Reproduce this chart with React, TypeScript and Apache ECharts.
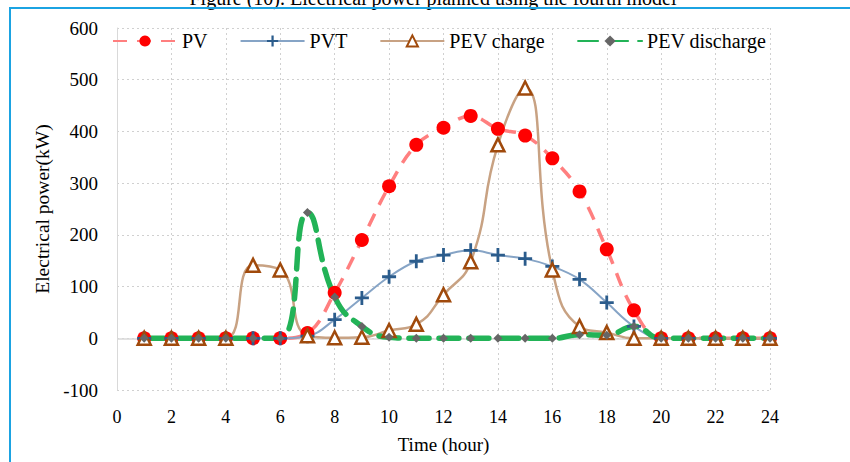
import React, { useEffect, useRef } from "react";
import * as echarts from "echarts";

const hours = [1, 2, 3, 4, 5, 6, 7, 8, 9, 10, 11, 12, 13, 14, 15, 16, 17, 18, 19, 20, 21, 22, 23, 24];
const pv = [0, 0, 0, 0, 0, 0, 10, 88, 190, 294, 374, 407, 430, 405, 392, 348, 284, 172, 54, 0, 0, 0, 0, 0];
const pvt = [0, 0, 0, 0, 0, 0, 4, 36, 78, 119, 149, 161, 170, 161, 154, 139, 114, 69, 23, 0, 0, 0, 0, 0];
const pevCharge = [0, 0, 0, 0, 141, 132, 5, 1, 2, 15, 27, 84, 148, 374, 484, 132, 23, 11, 0, 0, 0, 0, 0, 0];
const pevDischarge = [0, 0, 0, 0, 0, 0, 243, 80, 23, 2, 0, 0, 0, 0, 0, 0, 7, 6, 23, 0, 0, 0, 0, 0];
const seriesNames = ["PV", "PVT", "PEV charge", "PEV discharge"];
const titleText = "Figure (10). Electrical power planned using the fourth model";

const serif = "'Liberation Serif', 'Times New Roman', serif";
const plus = "path://M4,0H6V4H10V6H6V10H4V6H0V4H4Z";

const pair = (arr: number[]) => hours.map((h, i) => [h, arr[i]]);

export default function App() {
  const ref = useRef<HTMLDivElement>(null);
  useEffect(() => {
    document.body.style.margin = "0";
    const chart = echarts.init(ref.current!, undefined, { renderer: "svg" });
    chart.setOption({
      animation: false,
      backgroundColor: "#ffffff",
      grid: { left: 117, right: 80, top: 28, bottom: 72 },
      legend: {
        left: 107,
        top: 26,
        itemWidth: 64,
        itemHeight: 14,
        itemGap: 32,
        textStyle: { fontFamily: serif, fontSize: 20, color: "#000" },
        data: seriesNames,
      },
      xAxis: {
        type: "value",
        min: 0,
        max: 24,
        interval: 2,
        axisLine: { show: false, onZero: false },
        axisTick: { show: false },
        axisLabel: { fontFamily: serif, fontSize: 18, color: "#000", margin: 18 },
        splitLine: { show: true, lineStyle: { color: "#D0D0D0", type: [2, 3], width: 1 } },
        name: "Time (hour)",
        nameLocation: "middle",
        nameGap: 45,
        nameTextStyle: { fontFamily: serif, fontSize: 19, color: "#000" },
      },
      yAxis: {
        type: "value",
        min: -100,
        max: 600,
        interval: 100,
        axisLine: { show: true, lineStyle: { color: "#D9D9D9", width: 1 } },
        axisTick: { show: false },
        axisLabel: { fontFamily: serif, fontSize: 19, color: "#000", margin: 19 },
        splitLine: { show: true, lineStyle: { color: "#D0D0D0", type: [2, 3], width: 1 } },
        name: "Electrical power(kW)",
        nameLocation: "middle",
        nameGap: 62,
        nameTextStyle: { fontFamily: serif, fontSize: 19.5, color: "#000" },
      },
      graphic: [
        {
          type: "rect",
          shape: { x: 10, y: 8, width: 900, height: 500 },
          style: { fill: "none", stroke: "#1BA3E2", lineWidth: 2 },
          z: 100,
        },
        {
          type: "text",
          x: 433,
          y: -12,
          style: {
            text: titleText,
            fill: "#000",
            font: `20px ${serif}`,
            textAlign: "center",
            textVerticalAlign: "top",
          },
          z: 99,
        },
      ],
      series: [
        {
          name: "PV",
          type: "line",
          data: pair(pv),
          smooth: 0.4,
          symbol: "circle",
          symbolSize: 14,
          itemStyle: { color: "#FF0000" },
          lineStyle: { color: "#FF7F7F", width: 3.5, type: [14, 10] },
          markLine: {
            silent: true,
            symbol: "none",
            label: { show: false },
            lineStyle: { color: "#D9D9D9", type: "solid", width: 1.5 },
            data: [{ yAxis: 0 }],
            z: 1,
          },
        },
        {
          name: "PVT",
          type: "line",
          data: pair(pvt),
          smooth: 0.4,
          symbol: plus,
          symbolSize: 14,
          itemStyle: { color: "#2B5C8C" },
          lineStyle: { color: "#86A4C6", width: 2 },
        },
        {
          name: "PEV charge",
          type: "line",
          data: pair(pevCharge),
          smooth: 0.5,
          symbol: "triangle",
          symbolSize: 13,
          itemStyle: { color: "#FFFFFF", borderColor: "#A04A0C", borderWidth: 2.5 },
          lineStyle: { color: "#C8A283", width: 2.5 },
        },
        {
          name: "PEV discharge",
          type: "line",
          data: pair(pevDischarge),
          smooth: 0.5,
          symbol: "diamond",
          symbolSize: 9,
          itemStyle: { color: "#666666" },
          lineStyle: { color: "#22B357", width: 5.5, type: [20, 10], cap: "round" },
        },
      ],
    });
    return () => chart.dispose();
  }, []);
  return <div ref={ref} style={{ position: "fixed", left: 0, top: 0, width: 850, height: 462 }} />;
}
